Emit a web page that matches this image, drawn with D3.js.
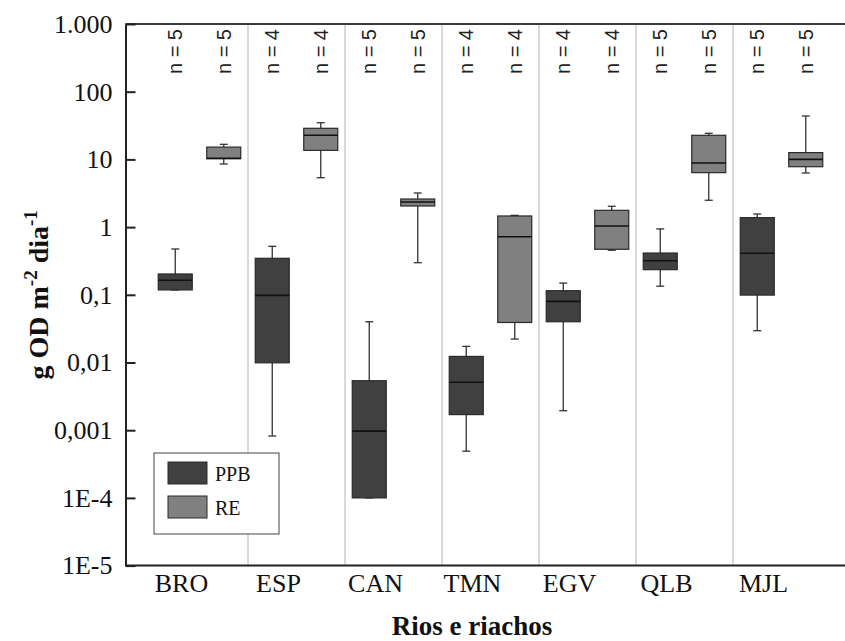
<!DOCTYPE html>
<html>
<head>
<meta charset="utf-8">
<script src="https://cdn.jsdelivr.net/npm/d3@7"></script>
<style>
  body { margin: 0; background: #fff; }
  svg { display: block; }
</style>
</head>
<body>
<svg id="chart" width="845" height="641"></svg>
<script>
// Sites
var sites = ["BRO", "ESP", "CAN", "TMN", "EGV", "QLB", "MJL"];

// PPB series (g OD m-2 dia-1)
var ppbMin = [0.118, 0.00082, 0.0001, 0.00049, 0.00194, 0.134, 0.0295];
var ppbQ1  = [0.118, 0.0099, 0.0001, 0.0017, 0.040, 0.235, 0.099];
var ppbMed = [0.164, 0.098, 0.00097, 0.0051, 0.080, 0.319, 0.41];
var ppbQ3  = [0.203, 0.346, 0.00538, 0.0123, 0.115, 0.414, 1.38];
var ppbMax = [0.475, 0.52, 0.040, 0.0173, 0.149, 0.94, 1.56];
var ppbN   = [5, 4, 5, 4, 4, 5, 5];

// RE series
var reMin = [8.55, 5.37, 0.298, 0.0222, 0.455, 2.49, 6.3];
var reQ1  = [10.2, 13.6, 2.05, 0.039, 0.47, 6.37, 7.8];
var reMed = [10.4, 22.7, 2.35, 0.72, 1.04, 8.85, 10.0];
var reQ3  = [15.2, 28.8, 2.6, 1.46, 1.77, 22.7, 12.6];
var reMax = [16.7, 34.8, 3.19, 1.49, 2.03, 24.3, 43.8];
var reN   = [5, 4, 5, 4, 4, 5, 5];

// Y ticks
var yTickValues = [1000, 100, 10, 1, 0.1, 0.01, 0.001, 1e-4, 1e-5];
var yTickLabels = ["1.000", "100", "10", "1", "0,1", "0,01", "0,001", "1E-4", "1E-5"];

var seriesNames = ["PPB", "RE"];
var seriesColors = ["#404040", "#808080"];

var svg = d3.select("#chart");
var plot = {left: 125.5, top: 24, right: 845, bottom: 565.6};

var y = d3.scaleLog().domain([1e-5, 1000]).range([plot.bottom, plot.top]);
var x = d3.scaleBand().domain(sites).range([151, 830]).padding(0);

var serif = "'Liberation Serif', 'Times New Roman', serif";
var sans = "'Liberation Sans', Arial, sans-serif";

// Build box table
var boxes = [];
sites.forEach(function(s, i){
  boxes.push({site: s, series: 0, min: ppbMin[i], q1: ppbQ1[i], med: ppbMed[i], q3: ppbQ3[i], max: ppbMax[i], n: ppbN[i]});
  boxes.push({site: s, series: 1, min: reMin[i], q1: reQ1[i], med: reMed[i], q3: reQ3[i], max: reMax[i], n: reN[i]});
});

function cx(d){
  return x(d.site) + x.bandwidth() * (d.series == 0 ? 0.25 : 0.75);
}
var boxW = 34, capW = 8;

// Separators between sites
svg.append("g").selectAll("line")
  .data(sites.slice(1))
  .enter().append("line")
    .attr("x1", function(d){ return x(d); })
    .attr("x2", function(d){ return x(d); })
    .attr("y1", plot.top)
    .attr("y2", plot.bottom)
    .style("stroke", "#b4b4b4")
    .style("stroke-width", 1);

// Whiskers
var g = svg.append("g");
g.selectAll(".whisker")
  .data(boxes)
  .enter().append("line")
    .attr("class", "whisker")
    .attr("x1", cx).attr("x2", cx)
    .attr("y1", function(d){ return y(d.min); })
    .attr("y2", function(d){ return y(d.max); })
    .style("stroke", "#333")
    .style("stroke-width", 1.3);

["min", "max"].forEach(function(k){
  g.selectAll(".cap-" + k)
    .data(boxes)
    .enter().append("line")
      .attr("class", "cap-" + k)
      .attr("x1", function(d){ return cx(d) - capW / 2; })
      .attr("x2", function(d){ return cx(d) + capW / 2; })
      .attr("y1", function(d){ return y(d[k]); })
      .attr("y2", function(d){ return y(d[k]); })
      .style("stroke", "#333")
      .style("stroke-width", 1.3);
});

// Boxes
g.selectAll(".box")
  .data(boxes)
  .enter().append("rect")
    .attr("class", "box")
    .attr("x", function(d){ return cx(d) - boxW / 2; })
    .attr("width", boxW)
    .attr("y", function(d){ return y(d.q3); })
    .attr("height", function(d){ return Math.max(1, y(d.q1) - y(d.q3)); })
    .style("fill", function(d){ return seriesColors[d.series]; })
    .style("stroke", "#2a2a2a")
    .style("stroke-width", 1.2);

// Medians
g.selectAll(".median")
  .data(boxes)
  .enter().append("line")
    .attr("class", "median")
    .attr("x1", function(d){ return cx(d) - boxW / 2; })
    .attr("x2", function(d){ return cx(d) + boxW / 2; })
    .attr("y1", function(d){ return y(d.med); })
    .attr("y2", function(d){ return y(d.med); })
    .style("stroke", "#111")
    .style("stroke-width", 1.6);

// n labels
g.selectAll(".nlabel")
  .data(boxes)
  .enter().append("text")
    .attr("class", "nlabel")
    .attr("transform", function(d){ return "translate(" + (cx(d) + 7) + "," + 29 + ") rotate(-90)"; })
    .style("text-anchor", "end")
    .style("font-family", sans)
    .style("font-size", "20px")
    .style("fill", "#222")
    .text(function(d){ return "n = " + d.n; });

// Top and bottom frame lines
svg.append("line")
  .attr("x1", plot.left).attr("x2", plot.right)
  .attr("y1", plot.top).attr("y2", plot.top)
  .style("stroke", "#3a3a3a").style("stroke-width", 2);

// Y axis
var yAxis = svg.append("g")
  .attr("transform", "translate(" + plot.left + ",0)")
  .call(d3.axisLeft(y)
    .tickValues(yTickValues)
    .tickFormat(function(d, i){ return yTickLabels[i]; })
    .tickSizeInner(-10)
    .tickSizeOuter(0)
    .tickPadding(13));
yAxis.select(".domain").style("stroke", "#222").style("stroke-width", 2);
yAxis.selectAll(".tick line").style("stroke", "#222").style("stroke-width", 2);
yAxis.selectAll("text")
  .style("font-family", serif)
  .style("font-size", "26px")
  .style("fill", "#111");

// X axis
var xAxis = svg.append("g")
  .attr("transform", "translate(0," + plot.bottom + ")")
  .call(d3.axisBottom(x).tickSize(0).tickPadding(8));
xAxis.select(".domain").remove();
xAxis.selectAll("text")
  .attr("dx", -18)
  .style("font-family", serif)
  .style("font-size", "26px")
  .style("fill", "#111");
svg.append("line")
  .attr("x1", plot.left).attr("x2", plot.right)
  .attr("y1", plot.bottom).attr("y2", plot.bottom)
  .style("stroke", "#222").style("stroke-width", 2);

// Axis titles
svg.append("text")
  .attr("x", 472)
  .attr("y", 635)
  .style("text-anchor", "middle")
  .style("font-family", serif)
  .style("font-size", "27px")
  .style("font-weight", "bold")
  .style("fill", "#111")
  .text("Rios e riachos");

var yTitle = svg.append("text")
  .attr("transform", "translate(48," + ((plot.top + plot.bottom) / 2) + ") rotate(-90)")
  .style("text-anchor", "middle")
  .style("font-family", serif)
  .style("font-size", "28px")
  .style("font-weight", "bold")
  .style("fill", "#111");
yTitle.append("tspan").text("g OD m");
yTitle.append("tspan").attr("dy", -11).style("font-size", "19px").text("-2");
yTitle.append("tspan").attr("dy", 11).text(" dia");
yTitle.append("tspan").attr("dy", -11).style("font-size", "19px").text("-1");

// Legend
var legend = svg.append("g");
legend.append("rect")
  .attr("x", 154).attr("y", 453)
  .attr("width", 125).attr("height", 81)
  .style("fill", "#fff")
  .style("stroke", "#444")
  .style("stroke-width", 1);
var items = legend.selectAll(".item")
  .data(seriesNames)
  .enter().append("g")
    .attr("transform", function(d, i){ return "translate(168," + (462 + i * 34) + ")"; });
items.append("rect")
  .attr("width", 39).attr("height", 22)
  .style("fill", function(d, i){ return seriesColors[i]; })
  .style("stroke", "#2a2a2a")
  .style("stroke-width", 1);
items.append("text")
  .attr("x", 47).attr("y", 19)
  .style("font-family", serif)
  .style("font-size", "20px")
  .style("fill", "#111")
  .text(function(d){ return d; });
</script>
</body>
</html>
